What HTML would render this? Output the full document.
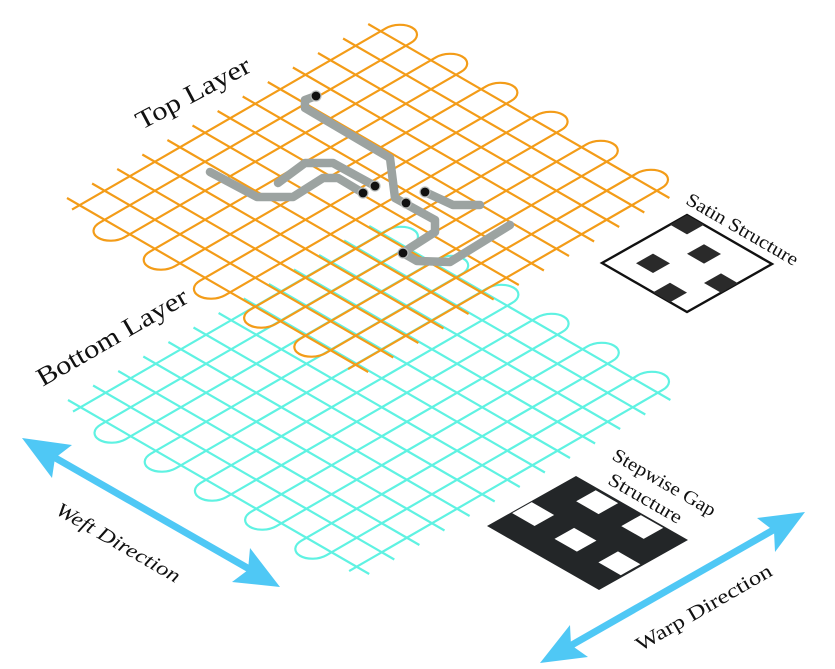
<!DOCTYPE html>
<html><head><meta charset="utf-8"><style>
html,body{margin:0;padding:0;background:#fff;}
svg{display:block;}
text{font-family:"Liberation Serif",serif;fill:#111;}
</style></head><body>
<svg width="835" height="669" viewBox="0 0 835 669" xmlns="http://www.w3.org/2000/svg">

<!-- bottom layer -->
<g transform="matrix(25.1 14.5 25.1 -14.5 68 400)" fill="none" stroke="#5ff2e2" stroke-width="2.2">
<path vector-effect="non-scaling-stroke" d="M0 0H12M0 1H12M0 2H12M0 3H12M0 4H12M0 5H12M0 6H12M0 7H12M0 8H12M0 9H12M0 10H12M0 11H12M0 12H12"/>
<path vector-effect="non-scaling-stroke" d="M0.5 -0.3V12.2 A0.5 0.55 0 0 0 1.5 12.2 V-0.2 A0.5 0.55 0 0 1 2.5 -0.2 V12.2 A0.5 0.55 0 0 0 3.5 12.2 V-0.2 A0.5 0.55 0 0 1 4.5 -0.2 V12.2 A0.5 0.55 0 0 0 5.5 12.2 V-0.2 A0.5 0.55 0 0 1 6.5 -0.2 V12.2 A0.5 0.55 0 0 0 7.5 12.2 V-0.2 A0.5 0.55 0 0 1 8.5 -0.2 V12.2 A0.5 0.55 0 0 0 9.5 12.2 V-0.2 A0.5 0.55 0 0 1 10.5 -0.2 V12.2 A0.5 0.55 0 0 0 11.5 12.2 V-0.3"/>
</g>

<!-- top layer -->
<g transform="matrix(25.1 14.5 25.1 -14.5 67 198)" fill="none" stroke="#f39c18" stroke-width="2.2">
<path vector-effect="non-scaling-stroke" d="M0 0H12M0 1H12M0 2H12M0 3H12M0 4H12M0 5H12M0 6H12M0 7H12M0 8H12M0 9H12M0 10H12M0 11H12M0 12H12"/>
<path vector-effect="non-scaling-stroke" d="M0.5 -0.3V12.2 A0.5 0.55 0 0 0 1.5 12.2 V-0.2 A0.5 0.55 0 0 1 2.5 -0.2 V12.2 A0.5 0.55 0 0 0 3.5 12.2 V-0.2 A0.5 0.55 0 0 1 4.5 -0.2 V12.2 A0.5 0.55 0 0 0 5.5 12.2 V-0.2 A0.5 0.55 0 0 1 6.5 -0.2 V12.2 A0.5 0.55 0 0 0 7.5 12.2 V-0.2 A0.5 0.55 0 0 1 8.5 -0.2 V12.2 A0.5 0.55 0 0 0 9.5 12.2 V-0.2 A0.5 0.55 0 0 1 10.5 -0.2 V12.2 A0.5 0.55 0 0 0 11.5 12.2 V-0.3"/>
</g>

<!-- gray conductive yarns -->
<g fill="none" stroke="#9ca3a1" stroke-width="8.5" stroke-linecap="round" stroke-linejoin="round">
<path d="M316 96 L305 100 L305 108 L390 158 L395 198 L435 220 L435 232 L410 248 L403 253 L417 261 L450 262 L510 225"/>
<path d="M278 183 L305 163 L333 163 L375 186"/>
<path d="M210 172 L257 197 L293 197 L323 178 L338 178 L363 193"/>
<path d="M425 192 L453 205 L480 205"/>
</g>
<g fill="#111" stroke="#b9bdbc" stroke-width="1.2">
<circle cx="316" cy="96" r="5"/>
<circle cx="375" cy="186" r="5"/>
<circle cx="363" cy="193" r="5"/>
<circle cx="406" cy="203" r="5"/>
<circle cx="425" cy="192" r="5"/>
<circle cx="403" cy="253" r="5"/>
</g>

<!-- satin structure -->
<g transform="matrix(85 49 85 -48 602 263)">
<path d="M0 0H1V1H0Z" fill="#fff" stroke="#111" stroke-width="2.4" vector-effect="non-scaling-stroke"/>
<g fill="#2a2a2a">
<rect x="0" y="0.8" width="0.2" height="0.2"/>
<rect x="0.2" y="0.2" width="0.2" height="0.2"/>
<rect x="0.4" y="0.6" width="0.2" height="0.2"/>
<rect x="0.6" y="0" width="0.2" height="0.2"/>
<rect x="0.8" y="0.4" width="0.2" height="0.2"/>
</g>
</g>

<!-- stepwise gap structure -->
<g transform="matrix(112 64 89 -50 487 526)">
<path d="M0 0H1V1H0Z" fill="#232628"/>
<g fill="#fff">
<rect x="0.01" y="0.27" width="0.2" height="0.22"/>
<rect x="0.40" y="0.255" width="0.2" height="0.22"/>
<rect x="0.78" y="0.27" width="0.2" height="0.22"/>
<rect x="0.2" y="0.75" width="0.2" height="0.22"/>
<rect x="0.595" y="0.76" width="0.2" height="0.22"/>
</g>
</g>

<!-- arrows -->
<g fill="#4fc8f5" stroke="none">
<line x1="45" y1="452" x2="258" y2="574" stroke="#4fc8f5" stroke-width="7"/>
<polygon points="22,438 72,445 55,458 52,478"/>
<polygon points="280,587 232,582 248,570 250,548"/>
<line x1="782" y1="525" x2="563" y2="650" stroke="#4fc8f5" stroke-width="7"/>
<polygon points="805,512 757,518 774,531 775,552"/>
<polygon points="540,663 588,657 571,645 570,625"/>
</g>

<!-- labels -->
<text x="193" y="93" font-size="26" text-anchor="middle" dominant-baseline="central" textLength="126" lengthAdjust="spacingAndGlyphs" transform="rotate(-28 193 93)">Top Layer</text>
<text x="112" y="337" font-size="26" text-anchor="middle" dominant-baseline="central" textLength="170" lengthAdjust="spacingAndGlyphs" transform="rotate(-30 112 337)">Bottom Layer</text>
<text x="742" y="230" font-size="19" text-anchor="middle" dominant-baseline="central" textLength="126" lengthAdjust="spacingAndGlyphs" transform="rotate(30 742 230)">Satin Structure</text>
<text x="664" y="483" font-size="19" text-anchor="middle" dominant-baseline="central" textLength="116" lengthAdjust="spacingAndGlyphs" transform="rotate(30 664 483)">Stepwise Gap</text>
<text x="645" y="499" font-size="19" text-anchor="middle" dominant-baseline="central" textLength="82" lengthAdjust="spacingAndGlyphs" transform="rotate(30 645 499)">Structure</text>
<text x="118" y="543" font-size="20" font-style="italic" text-anchor="middle" dominant-baseline="central" textLength="140" lengthAdjust="spacingAndGlyphs" transform="rotate(30 118 543)">Weft Direction</text>
<text x="704" y="608" font-size="20" text-anchor="middle" dominant-baseline="central" textLength="154" lengthAdjust="spacingAndGlyphs" transform="rotate(-30 704 608)">Warp Direction</text>
</svg>
</body></html>
